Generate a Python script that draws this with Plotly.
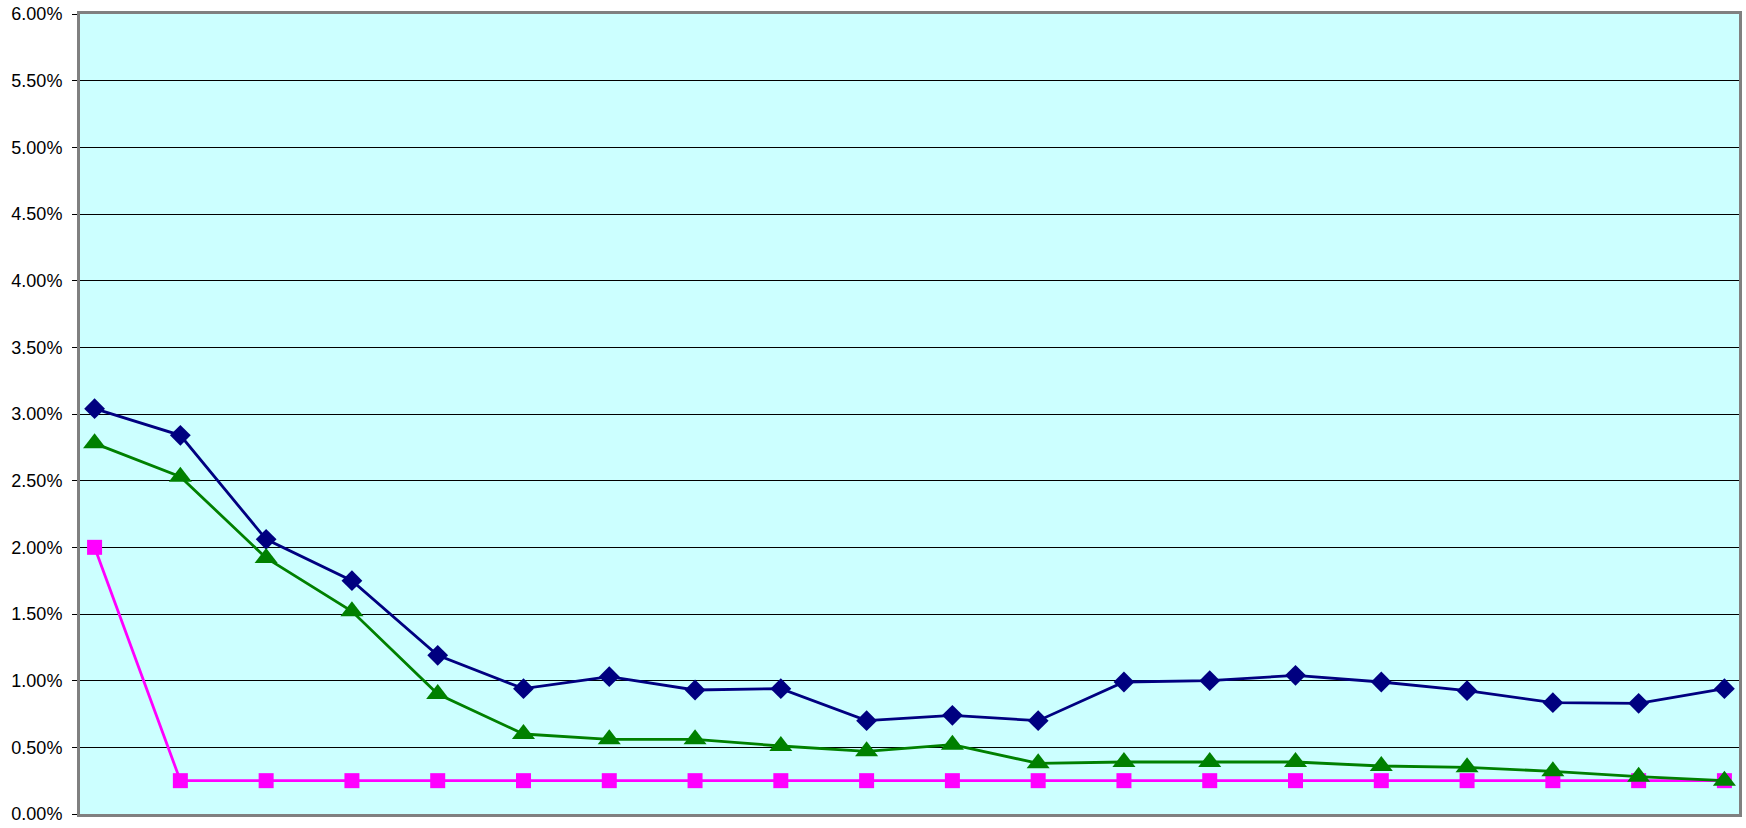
import plotly.graph_objects as go

categories = list(range(1, 21))
series_blue = [3.04, 2.84, 2.06, 1.75, 1.19, 0.94, 1.03, 0.93, 0.94, 0.70,
               0.74, 0.70, 0.99, 1.00, 1.04, 0.99, 0.925, 0.835, 0.83, 0.94]
series_magenta = [2.00] + [0.25] * 19
series_green = [2.78, 2.53, 1.92, 1.52, 0.90, 0.60, 0.56, 0.56, 0.51, 0.47,
                0.52, 0.38, 0.39, 0.39, 0.39, 0.36, 0.35, 0.32, 0.28, 0.25]
y_ticks = [i * 0.5 for i in range(13)]

def pct(v):
    return [x / 100 for x in v]

fig = go.Figure()
fig.add_trace(go.Scatter(x=categories, y=pct(series_blue), mode="lines+markers",
                         line=dict(color="#000080", width=2.8),
                         marker=dict(symbol="diamond", size=16, color="#000080")))
fig.add_trace(go.Scatter(x=categories, y=pct(series_magenta), mode="lines+markers",
                         line=dict(color="#FF00FF", width=2.8),
                         marker=dict(symbol="square", size=15, color="#FF00FF")))
fig.add_trace(go.Scatter(x=categories, y=pct(series_green), mode="lines+markers",
                         line=dict(color="#008000", width=2.8),
                         marker=dict(symbol="triangle-up", size=20, color="#008000")))

fig.update_layout(
    width=1746, height=828,
    margin=dict(l=80, r=4, t=13, b=11),
    paper_bgcolor="white",
    plot_bgcolor="#CCFFFF",
    showlegend=False,
    font=dict(family="Arial", size=18, color="black"),
)
fig.update_xaxes(range=[0.83, 20.17], showgrid=False, showticklabels=False,
                 zeroline=False, showline=True, linecolor="#808080", linewidth=3,
                 mirror=True, ticks="")
fig.update_yaxes(range=[0, 0.06], tickvals=pct(y_ticks), tickformat=".2%",
                 tickfont=dict(family="Arial", size=18, color="black"),
                 ticklabelstandoff=6,
                 showgrid=True, gridcolor="black", gridwidth=1,
                 zeroline=False, showline=True, linecolor="#808080", linewidth=3,
                 mirror=True, ticks="outside", ticklen=5, tickcolor="black",
                 tickwidth=1)

fig.write_html("out.html")
